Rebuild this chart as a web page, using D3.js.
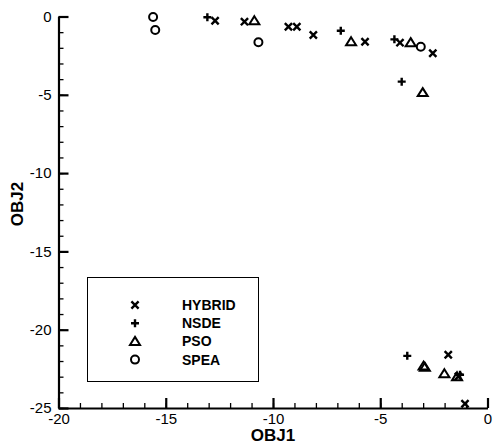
<!DOCTYPE html>
<html lang="en">
<head>
  <meta charset="utf-8" />
  <title>OBJ1 vs OBJ2 scatter</title>
  <script src="https://cdnjs.cloudflare.com/ajax/libs/d3/7.8.5/d3.min.js"></script>
  <style>
    body { margin: 0; background: #fff; }
    text { font-family: "Liberation Sans", Arial, sans-serif; }
  </style>
</head>

<body>
<script>
	// points, [obj1, obj2]
	var hybrid = [[-12.70, -0.27], [-11.33, -0.33], [-9.28, -0.65], [-8.89, -0.65],
	              [-8.12, -1.18], [-5.71, -1.61], [-4.08, -1.67], [-2.55, -2.35],
	              [-1.83, -21.6], [-1.36, -22.99], [-1.05, -24.73]];
	var nsde = [[-13.06, -0.05], [-6.84, -0.91], [-4.34, -1.46], [-4.00, -4.16],
	            [-3.74, -21.67], [-1.28, -22.88]];
	var pso = [[-10.87, -0.27], [-6.36, -1.61], [-3.58, -1.67], [-3.02, -4.86],
	           [-2.98, -22.32], [-2.92, -22.40], [-2.01, -22.81], [-1.42, -23.0]];
	var spea = [[-15.59, -0.03], [-15.49, -0.86], [-10.68, -1.65], [-3.11, -1.93]];

	var seriesNames = ["HYBRID", "NSDE", "PSO", "SPEA"];
	var majorTicks = [-20, -15, -10, -5, 0];
	var majorTicksY = [-25, -20, -15, -10, -5, 0];

	var w = 494;
	var h = 446;
	var margin = {top: 16.5, right: 6.5, bottom: 38, left: 58.5};

	var svg = d3.select("body")
		.append("svg")
		.attr("width", w)
		.attr("height", h);

	var x = d3.scaleLinear().domain([-20, 0]).range([margin.left, w - margin.right]);
	var y = d3.scaleLinear().domain([-25, 0]).range([h - margin.bottom, margin.top]);

	// plain hyphen for negatives, like the original
	var fmt = function(d) { return String(d); };

	// minor ticks every 1 unit, inward
	svg.append("g")
		.attr("transform", "translate(0," + y(-25) + ")")
		.call(d3.axisBottom(x).tickValues(d3.range(-20, 1)).tickSize(-5).tickSizeOuter(0).tickFormat(""))
		.call(function(g) { g.select(".domain").remove(); })
		.selectAll("line").attr("stroke-width", 1.3);
	svg.append("g")
		.attr("transform", "translate(" + x(-20) + ",0)")
		.call(d3.axisLeft(y).tickValues(d3.range(-25, 1)).tickSize(-5).tickSizeOuter(0).tickFormat(""))
		.call(function(g) { g.select(".domain").remove(); })
		.selectAll("line").attr("stroke-width", 1.3);

	// major ticks + labels
	var xAxis = svg.append("g")
		.attr("transform", "translate(0," + y(-25) + ")")
		.call(d3.axisBottom(x).tickValues(majorTicks).tickSize(-10).tickSizeOuter(0).tickPadding(5).tickFormat(fmt));
	var yAxis = svg.append("g")
		.attr("transform", "translate(" + x(-20) + ",0)")
		.call(d3.axisLeft(y).tickValues(majorTicksY).tickSize(-10).tickSizeOuter(0).tickPadding(7).tickFormat(fmt));

	[xAxis, yAxis].forEach(function(g) {
		g.selectAll("line").attr("stroke-width", 2.2);
		g.select(".domain").attr("stroke-width", 2.2);
		g.selectAll("text")
			.attr("font-size", "15px")
			.attr("font-family", "Liberation Sans, Arial, sans-serif")
			.attr("fill", "#000");
	});

	// axis titles
	svg.append("text")
		.text("OBJ1")
		.attr("x", (x(-20) + x(0)) / 2)
		.attr("y", 441)
		.attr("text-anchor", "middle")
		.attr("font-size", "17px")
		.attr("font-weight", "bold");
	svg.append("text")
		.text("OBJ2")
		.attr("transform", "translate(23,204) rotate(-90)")
		.attr("text-anchor", "middle")
		.attr("font-size", "17px")
		.attr("font-weight", "bold");

	// marker shapes
	var shapes = {
		HYBRID: "M-3.6,-3.6L3.6,3.6M-3.6,3.6L3.6,-3.6",
		NSDE: "M-4,0H4M0,-4V4",
		PSO: "M0,-4.5L5,3.5L-5,3.5Z",
		SPEA: "M4,0A4,4 0 1,1 -4,0A4,4 0 1,1 4,0Z"
	};
	var allSeries = [hybrid, nsde, pso, spea];

	allSeries.forEach(function(pts, i) {
		svg.selectAll("path.s" + i)
			.data(pts)
			.enter()
			.append("path")
			.attr("class", "s" + i)
			.attr("d", shapes[seriesNames[i]])
			.attr("transform", function(d) { return "translate(" + x(d[0]) + "," + y(d[1]) + ")"; })
			.attr("fill", "none")
			.attr("stroke", "#000")
			.attr("stroke-width", i < 2 ? 2.4 : 2);
	});

	// legend box
	var legend = svg.append("g");
	legend.append("rect")
		.attr("x", 87.5)
		.attr("y", 277.5)
		.attr("width", 171)
		.attr("height", 104)
		.attr("fill", "#fff")
		.attr("stroke", "#000")
		.attr("stroke-width", 1);

	seriesNames.forEach(function(name, i) {
		var ly = 305 + i * 18.2;
		legend.append("path")
			.attr("d", shapes[name])
			.attr("transform", "translate(135," + ly + ")")
			.attr("fill", "none")
			.attr("stroke", "#000")
			.attr("stroke-width", i < 2 ? 2.4 : 2);
		legend.append("text")
			.text(name)
			.attr("x", 182)
			.attr("y", ly)
			.attr("dy", "0.36em")
			.attr("font-size", "14px")
			.attr("font-weight", "bold");
	});
</script>
</body>
</html>
